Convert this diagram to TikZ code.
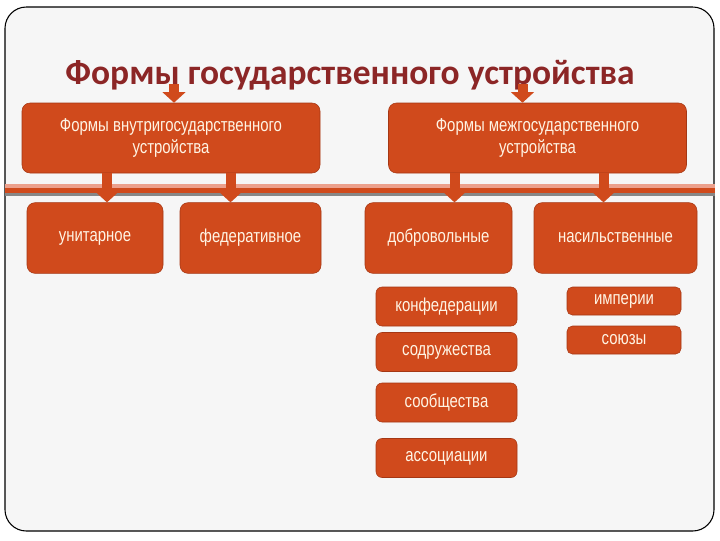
\documentclass[tikz,border=0pt]{standalone}
\usepackage{fontspec}
\setmainfont{Liberation Sans}
\newfontfamily\narrowfont[FakeStretch=0.8]{Liberation Sans}
\newfontfamily\titlefont{Carlito}
\usetikzlibrary{arrows.meta,calc}
\definecolor{boxfill}{RGB}{208,74,28}
\definecolor{boxline}{RGB}{165,55,20}
\definecolor{boxtext}{RGB}{255,244,228}
\definecolor{titlered}{RGB}{140,38,38}
\definecolor{bandtop}{RGB}{236,160,140}
\definecolor{bandlow}{RGB}{135,135,135}
\definecolor{paper}{RGB}{246,246,246}

\begin{document}
\begin{tikzpicture}
    	[x=0.75pt, y=-0.75pt,
    	 formbox/.style={draw=boxline, fill=boxfill, rounded corners=6pt, align=center,
    	   text=boxtext, font=\narrowfont\fontsize{14}{16}\selectfont, inner sep=0pt},
    	 bigbox/.style={formbox, minimum width=223.5pt, minimum height=52.5pt},
    	 kindbox/.style={formbox, minimum height=53pt},
    	 smallbox/.style={formbox, rounded corners=4.5pt, minimum width=105.75pt, minimum height=29.25pt},
    	 tinybox/.style={formbox, rounded corners=4pt, minimum width=85.5pt, minimum height=21pt},
    	 arrowdown/.style={draw=boxfill, line width=7.5pt, -{Triangle[width=17pt, length=8pt]}}]
    	\useasboundingbox (0,0) rectangle (720,540);
    	\fill[white] (0,0) rectangle (720,540);
    	\draw[black, line width=0.8pt, fill=paper, rounded corners=16pt] (5,7) rectangle (714,531);

    	\fill[bandtop] (5,184) rectangle (715,188);
    	\fill[boxfill] (5,188) rectangle (715,193);
    	\fill[bandlow] (5,193) rectangle (715,196);

    	\node (title) at (350,84) [anchor=base, text=titlered, font=\titlefont\bfseries\fontsize{26.6}{30}\selectfont]
    	  {Формы государственного устройства};

    	\node (inner) at (171,138) [bigbox] {Формы внутригосударственного\\устройства};
    	\node (inter) at (537.5,138) [bigbox] {Формы межгосударственного\\устройства};

    	\node (unit) at (95,238) [kindbox, minimum width=102pt] {унитарное};
    	\node (fed) at (250.5,238) [kindbox, minimum width=105.75pt] {федеративное};
    	\node (vol) at (438.5,238) [kindbox, minimum width=110.25pt] {добровольные};
    	\node (forc) at (615.5,238) [kindbox, minimum width=122.25pt] {насильственные};

    	\node (conf) at (446.5,306.5) [smallbox] {конфедерации};
    	\node (comm) at (446.5,352) [smallbox] {содружества};
    	\node (soc) at (446.5,402.5) [smallbox] {сообщества};
    	\node (assoc) at (446.5,458) [smallbox] {ассоциации};

    	\node (emp) at (624,301) [tinybox] {империи};
    	\node (union) at (624,340) [tinybox] {союзы};

    	\draw[arrowdown] ($(inner.north |- title.base)+(3,0)$) -- ($(inner.north)+(3,0)$);
    	\draw[arrowdown] ($(inter.north |- title.base)+(-15,0)$) -- ($(inter.north)+(-15,0)$);

    	\draw[arrowdown] ($(unit.north |- inner.south)+(12,0)$) -- ($(unit.north)+(12,0)$);
    	\draw[arrowdown] ($(fed.north |- inner.south)+(-20,0)$) -- ($(fed.north)+(-20,0)$);
    	\draw[arrowdown] ($(vol.north |- inter.south)+(16,0)$) -- ($(vol.north)+(16,0)$);
    	\draw[arrowdown] ($(forc.north |- inter.south)+(-12,0)$) -- ($(forc.north)+(-12,0)$);
\end{tikzpicture}
\end{document}
